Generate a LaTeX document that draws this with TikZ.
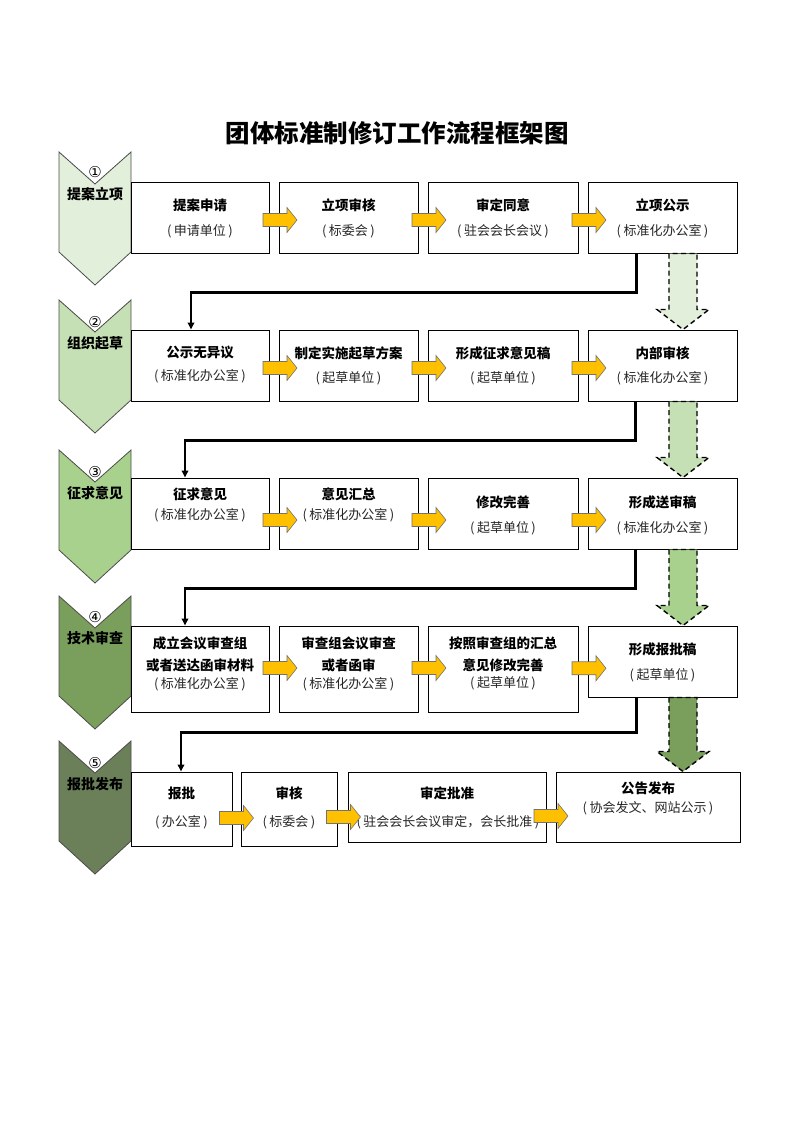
\documentclass[tikz,border=0pt]{standalone}
\usepackage{fontspec}
\setmainfont{Noto Sans CJK SC}
\newfontfamily\symfont{DejaVu Sans}
\usetikzlibrary{calc,arrows.meta}
\definecolor{sa}{RGB}{226,239,218}
\definecolor{sb}{RGB}{197,224,180}
\definecolor{sc}{RGB}{169,209,142}
\definecolor{sd}{RGB}{122,158,92}
\definecolor{se}{RGB}{107,128,88}
\definecolor{yel}{RGB}{255,192,0}
\newcommand\lp{(\kern2.5pt}
\newcommand\rp{\kern2.5pt)}
\newcommand\stagechev[2]{%
  \draw[stg, fill=#2] (59,#1) -- (95,#1+32) -- (131,#1) -- (131,#1+100) -- (95,#1+133) -- (59,#1+100) -- cycle;}
\newcommand\yarr[1]{%
  \draw[yar] ($(#1)+(-17,-6.5)$) -- ($(#1)+(7,-6.5)$) -- ($(#1)+(7,-12.5)$) -- ($(#1)+(17,0)$) -- ($(#1)+(7,12.5)$) -- ($(#1)+(7,6.5)$) -- ($(#1)+(-17,6.5)$) -- cycle;}
\newcommand\bigarr[3]{%
  \draw[bigarrow, fill=#3] ($(#1)+(-14,0)$) -- ($(#2)+(-14,-20)$) -- ($(#2)+(-26,-20)$) -- (#2) -- ($(#2)+(26,-20)$) -- ($(#2)+(14,-20)$) -- ($(#1)+(14,0)$) -- cycle;}
\begin{document}
\begin{tikzpicture}[x=1pt,y=-1pt,
  box/.style={draw, line width=1pt, fill=white, inner sep=0pt, rectangle},
  ttl/.style={font=\fontsize{13.5}{16}\selectfont\bfseries, inner sep=0pt},
  sub/.style={font=\fontsize{13}{16}\selectfont, inner sep=0pt, text=black!85},
  stg/.style={draw=black!70, line width=0.8pt},
  stl/.style={font=\fontsize{14}{16}\selectfont\bfseries, inner sep=0pt},
  num/.style={font=\symfont\fontsize{15}{16}\selectfont, inner sep=0pt},
  conn/.style={line width=2.1pt, -{Triangle[length=7pt,width=6.5pt]}},
  yar/.style={fill=yel, draw=black!55, line width=0.6pt},
  bigarrow/.style={draw, dash pattern=on 5pt off 3.5pt, line width=1.4pt}
]
\useasboundingbox (0,0) rectangle (793,1122);

% title
\node[font=\fontsize{24.5}{28}\selectfont\bfseries, inner sep=0pt] (title) at (397,133) {团体标准制修订工作流程框架图};

% stage chevrons
\stagechev{152}{sa}
\stagechev{300}{sb}
\stagechev{450}{sc}
\stagechev{596}{sd}
\stagechev{741}{se}
\node[num] (n1) at (95,172) {①};
\node[stl] (s1) at (95,194) {提案立项};
\node[num] (n2) at (95,322) {②};
\node[stl] (s2) at (95,343) {组织起草};
\node[num] (n3) at (95,472) {③};
\node[stl] (s3) at (95,493) {征求意见};
\node[num] (n4) at (95,617) {④};
\node[stl] (s4) at (95,638) {技术审查};
\node[num] (n5) at (95,763) {⑤};
\node[stl] (s5) at (95,784) {报批发布};

% row 1
\node[box, minimum width=138, minimum height=71] (b11) at (200,217.5) {};
\node[box, minimum width=139, minimum height=71] (b12) at (348.5,217.5) {};
\node[box, minimum width=150, minimum height=71] (b13) at (503,217.5) {};
\node[box, minimum width=149, minimum height=71] (b14) at (662.5,217.5) {};
% row 2
\node[box, minimum width=138, minimum height=71] (b21) at (200,365.5) {};
\node[box, minimum width=139, minimum height=71] (b22) at (348.5,365.5) {};
\node[box, minimum width=150, minimum height=71] (b23) at (503,365.5) {};
\node[box, minimum width=149, minimum height=71] (b24) at (662.5,365.5) {};
% row 3
\node[box, minimum width=138, minimum height=71] (b31) at (200,513.5) {};
\node[box, minimum width=139, minimum height=71] (b32) at (348.5,513.5) {};
\node[box, minimum width=150, minimum height=71] (b33) at (503,513.5) {};
\node[box, minimum width=149, minimum height=71] (b34) at (662.5,513.5) {};
% row 4
\node[box, minimum width=138, minimum height=86] (b41) at (200,669) {};
\node[box, minimum width=139, minimum height=86] (b42) at (348.5,669) {};
\node[box, minimum width=150, minimum height=86] (b43) at (503,669) {};
\node[box, minimum width=149, minimum height=71] (b44) at (662.5,661.5) {};
% row 5
\node[box, minimum width=101, minimum height=74] (b51) at (181.5,809) {};
\node[box, minimum width=96, minimum height=74] (b52) at (289,809) {};
\node[box, minimum width=198, minimum height=70] (b53) at (447,807) {};
\node[box, minimum width=184, minimum height=70] (b54) at (648,807) {};

% texts row 1
\node[ttl] (t11) at (200,205) {提案申请};
\node[sub] (u11) at (200,231) {\lp 申请单位\rp};
\node[ttl] (t12) at (348.5,205) {立项审核};
\node[sub] (u12) at (348.5,231) {\lp 标委会\rp};
\node[ttl] (t13) at (503,205) {审定同意};
\node[sub] (u13) at (503,231) {\lp 驻会会长会议\rp};
\node[ttl] (t14) at (662.5,205) {立项公示};
\node[sub] (u14) at (662.5,231) {\lp 标准化办公室\rp};
% texts row 2
\node[ttl] (t21) at (200,352) {公示无异议};
\node[sub] (u21) at (200,376) {\lp 标准化办公室\rp};
\node[ttl] (t22) at (348.5,353) {制定实施起草方案};
\node[sub] (u22) at (348.5,378) {\lp 起草单位\rp};
\node[ttl] (t23) at (503,353) {形成征求意见稿};
\node[sub] (u23) at (503,378) {\lp 起草单位\rp};
\node[ttl] (t24) at (662.5,353) {内部审核};
\node[sub] (u24) at (662.5,378) {\lp 标准化办公室\rp};
% texts row 3
\node[ttl] (t31) at (200,494) {征求意见};
\node[sub] (u31) at (200,515) {\lp 标准化办公室\rp};
\node[ttl] (t32) at (348.5,494) {意见汇总};
\node[sub] (u32) at (348.5,515) {\lp 标准化办公室\rp};
\node[ttl] (t33) at (503,502) {修改完善};
\node[sub] (u33) at (503,528) {\lp 起草单位\rp};
\node[ttl] (t34) at (662.5,502) {形成送审稿};
\node[sub] (u34) at (662.5,528) {\lp 标准化办公室\rp};
% texts row 4
\node[ttl] (t41a) at (200,643) {成立会议审查组};
\node[ttl] (t41b) at (200,665) {或者送达函审材料};
\node[sub] (u41) at (200,684) {\lp 标准化办公室\rp};
\node[ttl] (t42a) at (348.5,643) {审查组会议审查};
\node[ttl] (t42b) at (348.5,665) {或者函审};
\node[sub] (u42) at (348.5,684) {\lp 标准化办公室\rp};
\node[ttl] (t43a) at (503,643) {按照审查组的汇总};
\node[ttl] (t43b) at (503,665) {意见修改完善};
\node[sub] (u43) at (503,683) {\lp 起草单位\rp};
\node[ttl] (t44) at (662.5,649) {形成报批稿};
\node[sub] (u44) at (662.5,675) {\lp 起草单位\rp};
% texts row 5
\node[ttl] (t51) at (181.5,793) {报批};
\node[sub] (u51) at (181.5,822) {\lp 办公室\rp};
\node[ttl] (t52) at (289,793) {审核};
\node[sub] (u52) at (289,822) {\lp 标委会\rp};
\node[ttl] (t53) at (447,793) {审定批准};
\node[sub] (u53) at (448,822) {\lp 驻会会长会议审定，会长批准\rp};
\node[ttl] (t54) at (648,788) {公告发布};
\node[sub] (u54) at (648,808) {\lp 协会发文、网站公示\rp};

% yellow arrows
\coordinate (y11) at ($(b11.east)!0.5!(b12.west)+(6,2.5)$);
\coordinate (y12) at ($(b12.east)!0.5!(b13.west)+(6,2.5)$);
\coordinate (y13) at ($(b13.east)!0.5!(b14.west)+(6,2.5)$);
\coordinate (y21) at ($(b21.east)!0.5!(b22.west)+(6,2.5)$);
\coordinate (y22) at ($(b22.east)!0.5!(b23.west)+(6,2.5)$);
\coordinate (y23) at ($(b23.east)!0.5!(b24.west)+(6,2.5)$);
\coordinate (y31) at ($(b31.east)!0.5!(b32.west)+(6,6.5)$);
\coordinate (y32) at ($(b32.east)!0.5!(b33.west)+(6,6.5)$);
\coordinate (y33) at ($(b33.east)!0.5!(b34.west)+(6,6.5)$);
\coordinate (y41) at ($(b41.east)!0.5!(b42.west)+(6,-1)$);
\coordinate (y42) at ($(b42.east)!0.5!(b43.west)+(6,-1)$);
\coordinate (y43) at ($(b43.east)!0.5!(b44.west)+(6,3)$);
\coordinate (y51) at ($(b51.east)!0.5!(b52.west)+(0,9)$);
\coordinate (y52) at ($(b52.east)!0.5!(b53.west)+(1,9)$);
\coordinate (y53) at ($(b53.east)!0.5!(b54.west)+(0,9)$);
\foreach \c in {y11,y12,y13,y21,y22,y23,y31,y32,y33,y41,y42,y43,y51,y52,y53} {\yarr{\c}}

% connectors
\draw[conn] ($(b14.south)+(-26,0)$) -- ++(0,39) -| ($(b21.north)+(-9,0)$);
\draw[conn] ($(b24.south)+(-27,0)$) -- ++(0,39) -| ($(b31.north)+(-15,0)$);
\draw[conn] ($(b34.south)+(-27,0)$) -- ++(0,39) -| ($(b41.north)+(-15,0)$);
\draw[conn] ($(b44.south)+(-26,0)$) -- ++(0,35) -| ($(b51.north)+(-0.5,0)$);

% big dashed arrows
\coordinate (a1s) at ($(b14.south)+(20.5,0)$);
\coordinate (a1e) at ($(b24.north)+(20.5,0)$);
\coordinate (a2s) at ($(b24.south)+(20.5,0)$);
\coordinate (a2e) at ($(b34.north)+(20.5,0)$);
\coordinate (a3s) at ($(b34.south)+(20.5,0)$);
\coordinate (a3e) at ($(b44.north)+(20.5,0)$);
\coordinate (a4s) at ($(b44.south)+(20.5,0)$);
\coordinate (a4e) at ($(b54.north)+(35,0)$);
\bigarr{a1s}{a1e}{sa}
\bigarr{a2s}{a2e}{sb}
\bigarr{a3s}{a3e}{sc}
\bigarr{a4s}{a4e}{sd}
\end{tikzpicture}
\end{document}
